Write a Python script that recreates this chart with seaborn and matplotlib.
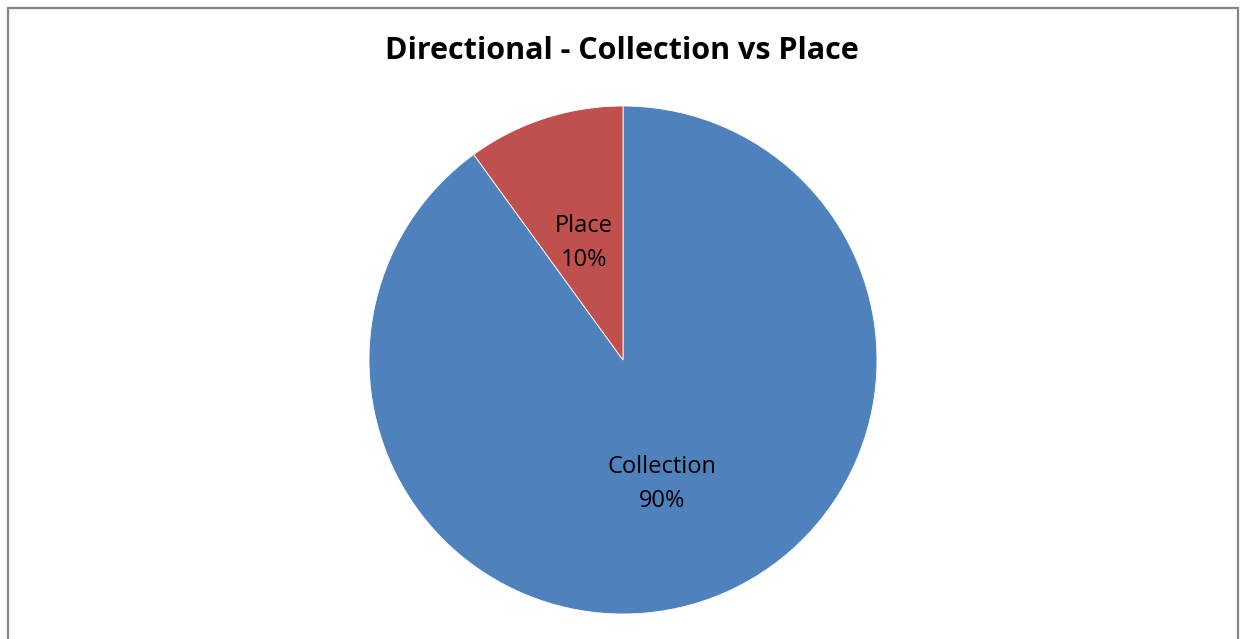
import matplotlib
matplotlib.use("Agg")
import matplotlib.pyplot as plt
from matplotlib.patches import Rectangle
import seaborn as sns

# Chart data
categories = ["Collection", "Place"]
shares = [90, 10]
colors = ["#4F81BD", "#C0504D"]

sns.set_style("white")
plt.rcParams["font.family"] = ["Open Sans", "DejaVu Sans"]

W, H = 1241, 639
fig = plt.figure(figsize=(W / 100, H / 100), dpi=100)

# Pie centred at (623, 360) px, radius 254 px
cx, cy, r = 623, 360, 254
ax = fig.add_axes([(cx - r) / W, (H - cy - r) / H, 2 * r / W, 2 * r / H])

labels = [f"{c}\n{v}%" for c, v in zip(categories, shares)]
wedges, texts = ax.pie(shares, labels=labels, colors=colors, startangle=90,
                       counterclock=False, labeldistance=0.5,
                       wedgeprops=dict(linewidth=0.6, edgecolor="white"),
                       textprops=dict(fontsize=17, color="black",
                                      ha="center", va="center",
                                      linespacing=1.55))
# nudge labels down a few pixels to match the reference
for t in texts:
    x, y = t.get_position()
    t.set_position((x, y - 0.014))

ax.set_xlim(-1, 1)
ax.set_ylim(-1, 1)
ax.set_aspect("equal")
ax.axis("off")

# Title
fig.text(622 / W, 1 - 51 / H, "Directional - Collection vs Place",
         ha="center", va="center", fontsize=22, fontweight="bold",
         color="black")

# Chart border
fig.add_artist(Rectangle((7.5 / W, -0.05), 1230 / W, (H - 7.5) / H + 0.05,
                         transform=fig.transFigure, fill=False,
                         edgecolor="#868686", linewidth=1.6))

plt.savefig("out.png", dpi=100)
